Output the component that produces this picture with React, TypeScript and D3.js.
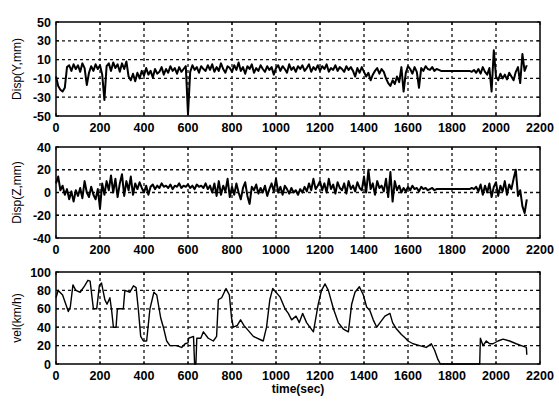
import * as d3 from 'd3'

// sample interval of the displacement records (sec)
const SAMPLE_DT = 10

const dispY = [
  -8, -18, -22, -24, -20, 2, 4, -2, 5, 0,
  4, -3, 6, 1, -17, -4, 3, -2, 5, 0,
  4, -6, -33, 3, 6, -2, 7, 1, 5, -3,
  6, 0, 8, -8, -12, -5, -13, -4, -10, -2,
  -7, 1, -6, -2, -9, 0, -5, -3, 2, -6,
  0, -4, 3, -2, 1, -5, 2, -3, 0, 3,
  -48, -3, 4, -1, 2, -4, 3, 0, -2, 4,
  -1, 5, -3, 2, -2, 6, 0, -4, 3, 1,
  -3, 4, -1, 7, -2, 2, -5, 3, 0, 5,
  -4, 1, -2, 4, 0, -3, 3, -1, 2, -6,
  1, 4, -2, 3, 0, -4, 5, -1, 2, -3,
  3, 0, 4, -2, 1, 5, -3, 2, -1, 4,
  -2, 3, 0, 5, -3, 1, -1, 4, -2, 2,
  0, -3, 3, -1, 2, -2, -8, 1, -4, 2,
  -3, -8, -4, -12, -6, -2, 1, -5, 0, -3,
  -10, -15, -18, -12, -16, -8, -14, 2, -24, -4,
  3, 0, -5, 2, -3, -20, 1, -2, 3, 0,
  -1, 2, -2, 0, -1, -2, -2, -2, -2, -2,
  -2, -2, -2, -2, -2, -2, -2, -2, -2, -3,
  -1, -4, 0, -5, 2, -3, -6, 1, -24, 20,
  -8, -12, -5, -10, -6, -11, -4, -8, -12, -3,
  2, -15, 16, -2, 4,
]

const dispZ = [
  8, 14, 2, 6, -2, 3, -6, 1, -8, 2,
  -3, 4, -5, 10, 0, -4, 5, -2, -6, 3,
  -14, 8, -2, 10, 2, 15, 0, 12, -4, 8,
  16, -3, 10, 2, 14, -2, 8, 3, 9, 4,
  0, 6, -2, 5, 7, 3, 6, 4, 8, 5,
  6, 4, 7, 3, 6, 5, 8, 4, 6, 5,
  7, 4, 6, 3, 7, 5, 6, 4, 8, 3,
  6, 0, 8, -3, 10, -2, 6, 1, 12, -4,
  5, -2, 8, 0, -6, 4, 9, -3, -10, 5,
  2, 7, -1, 4, 0, 6, -3, 3, 8, 1,
  12, 0, 5, -2, 6, 3, -1, 4, 0, 2,
  -2, 3, 0, 5, 1, 8, 2, 12, 3, 6,
  10, 2, 8, 0, 12, 3, 7, -1, 9, 4,
  2, 8, -1, 10, 3, 6, 1, 9, 4, 2,
  14, 0, 20, 3, 8, -2, 10, 4, 6, 1,
  12, -4, 18, -8, 10, 2, 6, 0, 4, 1,
  5, 2, 6, 3, 4, 1, 5, 3, 4, 2,
  3, 4, 2, 3, 3, 3, 3, 3, 3, 3,
  3, 3, 3, 3, 3, 3, 3, 3, 3, 4,
  3, 5, 1, 7, -2, 6, 0, 8, -4, 5,
  9, -3, 6, 1, 10, -2, 7, 3, 12, 20,
  -3, 2, -12, -18, -6,
]

const velTime = [
  0, 10, 30, 56, 65, 77, 90, 110, 130, 145, 155, 170, 185, 197, 207, 222, 232, 245, 253, 261,
  273, 279, 306, 313, 336, 352, 364, 374, 385, 397, 412, 427, 445, 458, 476, 488, 503, 518, 548, 571,
  587, 600, 603, 625, 630, 636, 640, 658, 670, 692, 715, 730, 738, 753, 773, 788, 798, 806, 824, 839,
  854, 897, 942, 957, 972, 985, 1018, 1041, 1056, 1071, 1091, 1106, 1121, 1139, 1170, 1192, 1207, 1223, 1238, 1261,
  1283, 1306, 1329, 1344, 1359, 1379, 1397, 1412, 1427, 1442, 1458, 1473, 1495, 1518, 1530, 1548, 1570, 1589, 1600, 1623,
  1653, 1683, 1706, 1721, 1736, 1747, 1926, 1929, 1941, 1956, 1971, 1986, 2009, 2032, 2062, 2092, 2115, 2138, 2140,
]
const velValue = [
  72, 80, 75, 57, 62, 86, 80, 78, 85, 91, 90, 60, 60, 85, 88, 70, 65, 72, 58, 40,
  40, 60, 60, 80, 78, 85, 83, 60, 30, 25, 25, 60, 78, 75, 50, 40, 25, 20, 20, 18,
  22, 23, 28, 30, 0, 0, 28, 28, 35, 28, 25, 30, 70, 72, 82, 75, 50, 40, 42, 48,
  42, 30, 25, 40, 70, 82, 73, 60, 55, 48, 52, 45, 55, 45, 35, 65, 80, 87, 80, 60,
  45, 38, 35, 65, 78, 84, 75, 62, 58, 48, 40, 45, 52, 55, 45, 38, 32, 28, 25, 22,
  20, 18, 22, 15, 5, 0, 0, 28, 20, 25, 22, 22, 25, 27, 25, 22, 20, 18, 10,
]

const xTicks = [0, 200, 400, 600, 800, 1000, 1200, 1400, 1600, 1800, 2000, 2200]
const yTicksY = [-50, -30, -10, 10, 30, 50]
const yTicksZ = [-40, -20, 0, 20, 40]
const yTicksVel = [0, 20, 40, 60, 80, 100]

const W = 559
const H = 403
const LEFT = 56
const RIGHT = 540
const FONT = '"Liberation Sans", Arial, sans-serif'

interface PanelProps {
  top: number
  bottom: number
  yDomain: [number, number]
  yTicks: number[]
  label: string
  times: number[]
  values: number[]
  strokeWidth: number
}

function Panel({ top, bottom, yDomain, yTicks, label, times, values, strokeWidth }: PanelProps) {
  const x = d3.scaleLinear().domain([0, 2200]).range([LEFT, RIGHT])
  const y = d3.scaleLinear().domain(yDomain).range([bottom, top])
  const line = d3.line<number>()
    .x((_, i) => x(times[i]))
    .y(d => y(d))

  return (
    <g>
      {/* grid */}
      {xTicks.slice(1, -1).map(t => (
        <line key={'gx' + t} x1={x(t)} x2={x(t)} y1={top} y2={bottom}
          stroke="#111" strokeWidth={1.3} strokeDasharray="3,3" />
      ))}
      {yTicks.slice(1, -1).map(t => (
        <line key={'gy' + t} x1={LEFT} x2={RIGHT} y1={y(t)} y2={y(t)}
          stroke="#111" strokeWidth={1.3} strokeDasharray="3,3" />
      ))}
      {/* data */}
      <path d={line(values) ?? ''} fill="none" stroke="#000" strokeWidth={strokeWidth}
        strokeLinejoin="round" />
      {/* frame */}
      <rect x={LEFT} y={top} width={RIGHT - LEFT} height={bottom - top}
        fill="none" stroke="#000" strokeWidth={1.5} />
      {/* ticks + labels */}
      {xTicks.map(t => (
        <g key={'tx' + t}>
          <line x1={x(t)} x2={x(t)} y1={bottom} y2={bottom - 3} stroke="#000" />
          <line x1={x(t)} x2={x(t)} y1={top} y2={top + 3} stroke="#000" />
          <text x={x(t)} y={bottom + 16} textAnchor="middle" fontSize={12.5}
            fontWeight="bold" fontFamily={FONT}>{t}</text>
        </g>
      ))}
      {yTicks.map(t => (
        <g key={'ty' + t}>
          <line x1={LEFT} x2={LEFT + 3} y1={y(t)} y2={y(t)} stroke="#000" />
          <line x1={RIGHT} x2={RIGHT - 3} y1={y(t)} y2={y(t)} stroke="#000" />
          <text x={51} y={y(t) + 4.5} textAnchor="end" fontSize={12.5}
            fontWeight="bold" fontFamily={FONT}>{t}</text>
        </g>
      ))}
      <text transform={`translate(21,${(top + bottom) / 2}) rotate(-90)`} textAnchor="middle"
        fontSize={12} fontFamily={FONT}>{label}</text>
    </g>
  )
}

export default function App() {
  const dispTime = dispY.map((_, i) => i * SAMPLE_DT)
  const dispZTime = dispZ.map((_, i) => i * SAMPLE_DT)
  return (
    <svg width={W} height={H} style={{ position: 'absolute', left: 0, top: 0, background: '#fff' }}>
      <Panel top={22} bottom={116} yDomain={[-50, 50]} yTicks={yTicksY} label="Disp(Y,mm)"
        times={dispTime} values={dispY} strokeWidth={2} />
      <Panel top={147} bottom={238} yDomain={[-40, 40]} yTicks={yTicksZ} label="Disp(Z,mm)"
        times={dispZTime} values={dispZ} strokeWidth={2} />
      <Panel top={272} bottom={364} yDomain={[0, 100]} yTicks={yTicksVel} label="vel(km/h)"
        times={velTime} values={velValue} strokeWidth={1.4} />
      <text x={(LEFT + RIGHT) / 2} y={393} textAnchor="middle" fontSize={12}
        fontWeight="bold" fontFamily={FONT}>time(sec)</text>
    </svg>
  )
}
